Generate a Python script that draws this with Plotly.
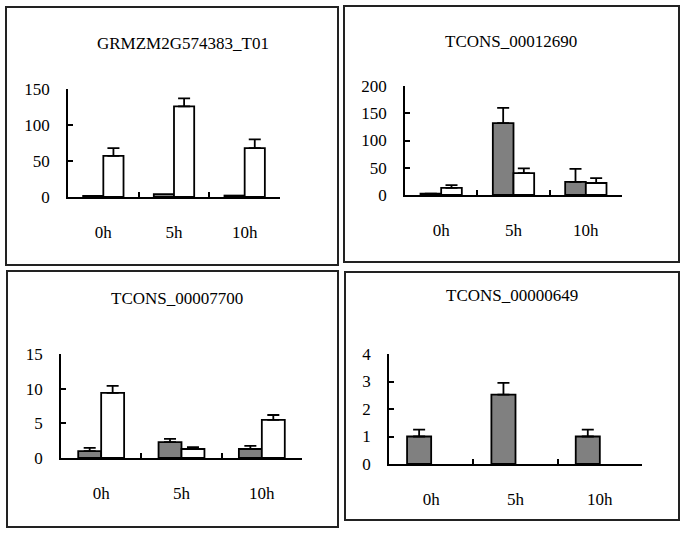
import plotly.graph_objects as go

categories = ["0h", "5h", "10h"]

titles = ["GRMZM2G574383_T01", "TCONS_00012690", "TCONS_00007700", "TCONS_00000649"]

p1_gray = [1.5, 4, 2]
p1_gray_err = [0, 0, 0]
p1_white = [57, 126, 68]
p1_white_err = [11, 11, 12]

p2_gray = [2.5, 132, 24]
p2_gray_err = [0, 28, 24]
p2_white = [13, 40, 22]
p2_white_err = [5, 9, 9]

p3_gray = [1.0, 2.3, 1.3]
p3_gray_err = [0.45, 0.45, 0.45]
p3_white = [9.4, 1.3, 5.5]
p3_white_err = [1.0, 0.25, 0.7]

p4_gray = [1.0, 2.52, 1.0]
p4_gray_err = [0.25, 0.43, 0.25]
p4_white = [None, None, None]
p4_white_err = [None, None, None]

y_max = [150, 200, 15, 4]
y_dtick = [50, 50, 5, 1]

W, H = 686, 534
FONT = "Liberation Serif"

# pixel layout: (x_left, x_right, y_top, y_bottom) of plot areas
areas = [(68, 280, 89, 197), (405, 622, 86, 195), (61, 302, 354, 458), (389, 642, 354, 464)]
frames = [(6, 338, 7, 265), (344, 679, 6, 262), (7, 338, 271, 527), (345, 679, 272, 520)]
title_pos = [(183, 44), (511, 42), (177, 298), (512, 295)]

series = [
    (p1_gray, p1_gray_err, p1_white, p1_white_err, False),
    (p2_gray, p2_gray_err, p2_white, p2_white_err, True),
    (p3_gray, p3_gray_err, p3_white, p3_white_err, True),
    (p4_gray, p4_gray_err, p4_white, p4_white_err, True),
]

fig = go.Figure()
for i, (g, ge, w, we, gvis) in enumerate(series):
    xa = "x" if i == 0 else f"x{i+1}"
    ya = "y" if i == 0 else f"y{i+1}"
    fig.add_trace(go.Bar(
        x=categories, y=g, xaxis=xa, yaxis=ya,
        marker=dict(color="#808080", line=dict(color="black", width=1.8)),
        error_y=dict(type="data", array=ge, arrayminus=[0, 0, 0], symmetric=False,
                     visible=gvis, color="black", thickness=1.8, width=6),
        showlegend=False))
    fig.add_trace(go.Bar(
        x=categories, y=w, xaxis=xa, yaxis=ya,
        marker=dict(color="white", line=dict(color="black", width=1.8)),
        error_y=dict(type="data", array=we, arrayminus=[0, 0, 0], symmetric=False,
                     color="black", thickness=1.8, width=6),
        showlegend=False))

layout = dict(
    width=W, height=H, margin=dict(l=0, r=0, t=0, b=0, autoexpand=False),
    paper_bgcolor="white", plot_bgcolor="white",
    barmode="group", bargap=1.5 / 3.5, bargroupgap=0,
    font=dict(family=FONT, size=17, color="black"),
    shapes=[], annotations=[],
)
for i, (x0, x1, yt, yb) in enumerate(areas):
    sx = "" if i == 0 else str(i + 1)
    layout[f"xaxis{sx}"] = dict(
        domain=[x0 / W, x1 / W], anchor=f"y{sx}", type="category", automargin=False,
        tickson="boundaries", ticks="inside", ticklen=5, tickwidth=1.5, tickcolor="black",
        showline=True, linecolor="black", linewidth=1.5, showgrid=False, zeroline=False,
        ticklabelstandoff=19, tickfont=dict(family=FONT, size=17, color="black"),
        fixedrange=True)
    layout[f"yaxis{sx}"] = dict(
        domain=[1 - yb / H, 1 - yt / H], anchor=f"x{sx}", range=[0, y_max[i]], automargin=False,
        tick0=0, dtick=y_dtick[i], ticks="inside", ticklen=5, tickwidth=1.5, tickcolor="black",
        showline=True, linecolor="black", linewidth=1.5, showgrid=False, zeroline=False,
        ticklabelstandoff=13, tickfont=dict(family=FONT, size=17, color="black"),
        fixedrange=True)

for (fx0, fx1, fy0, fy1) in frames:
    layout["shapes"].append(dict(type="rect", xref="paper", yref="paper",
                                 x0=fx0 / W, x1=fx1 / W, y0=1 - fy1 / H, y1=1 - fy0 / H,
                                 line=dict(color="#222222", width=2), fillcolor="rgba(0,0,0,0)"))
for t, (tx, ty) in zip(titles, title_pos):
    layout["annotations"].append(dict(text=t, xref="paper", yref="paper",
                                      x=tx / W, y=1 - ty / H, xanchor="center", yanchor="middle",
                                      showarrow=False, font=dict(family=FONT, size=17, color="black")))

fig.update_layout(**layout)
fig.write_html("out.html", config={"displayModeBar": False},
               post_script="document.body.style.margin='0';document.body.style.overflow='hidden';")
